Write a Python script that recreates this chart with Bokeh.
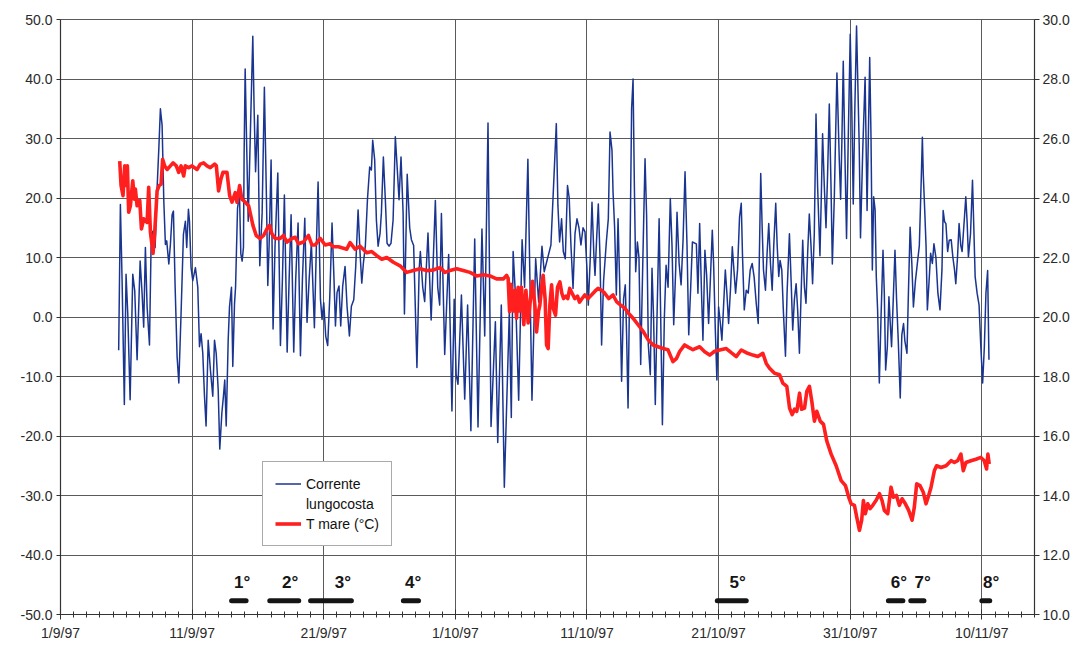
from bokeh.plotting import figure
from bokeh.models import (Range1d, LinearAxis, FixedTicker, PrintfTickFormatter,
                          Legend, LegendItem, ColumnDataSource)
from bokeh.core.properties import value
from bokeh.embed import file_html
from bokeh.resources import INLINE

# ---------------- data (days since 1/9/97) ----------------
x_tick_days = [0, 10, 20, 30, 40, 50, 60, 70]
x_tick_labels = ["1/9/97", "11/9/97", "21/9/97", "1/10/97", "11/10/97",
                 "21/10/97", "31/10/97", "10/11/97"]
left_ticks = [-50, -40, -30, -20, -10, 0, 10, 20, 30, 40, 50]
right_ticks = [10, 12, 14, 16, 18, 20, 22, 24, 26, 28, 30]

# Corrente lungocosta (left axis)
cur_day = [
    4.42, 4.55, 4.68, 4.85, 4.98, 5.11, 5.29, 5.49, 5.64, 5.82, 6.05, 6.20, 6.32, 6.45,
    6.58, 6.76, 6.88, 7.01, 7.19, 7.34, 7.47, 7.59, 7.72, 7.85, 7.97, 8.07, 8.23, 8.35,
    8.48, 8.58, 8.71, 8.86, 8.99, 9.16, 9.34, 9.49, 9.59, 9.72, 9.80, 9.92, 10.05, 10.25,
    10.43, 10.56, 10.68, 10.81, 10.94, 11.06, 11.22, 11.39, 11.57, 11.70, 11.83, 11.98,
    12.10, 12.26, 12.38, 12.48, 12.59, 12.74, 12.84, 12.99, 13.09, 13.22, 13.30, 13.45,
    13.60, 13.70, 13.80, 13.90, 13.95, 14.03, 14.16, 14.26, 14.36, 14.49, 14.61, 14.71,
    14.82,
    14.99, 15.14, 15.32, 15.49, 15.65, 15.75, 15.85, 16.00, 16.15, 16.30, 16.51, 16.71,
    16.86, 17.01, 17.22, 17.37, 17.52, 17.72, 17.87, 18.05, 18.23, 18.38, 18.56, 18.73,
    18.89, 19.06, 19.29, 19.44, 19.57, 19.75, 19.87, 20.00, 20.15, 20.30, 20.46, 20.63,
    20.78, 20.89, 21.01, 21.16, 21.29, 21.44, 21.62, 21.77, 21.95, 22.10, 22.28, 22.43,
    22.61, 22.76, 22.89, 23.01, 23.16, 23.32, 23.49, 23.62, 23.72, 23.87, 24.00, 24.13,
    24.28, 24.38, 24.53, 24.68, 24.81, 24.96, 25.11, 25.27, 25.44, 25.59, 25.72, 25.87,
    26.03,
    26.13, 26.34, 26.53, 26.66, 26.83, 27.08, 27.25, 27.34, 27.52, 27.67, 27.92, 28.16,
    28.48, 28.66, 28.81, 28.94, 29.19, 29.49, 29.74, 29.91, 30.06, 30.20, 30.46, 30.71,
    30.82, 30.93, 31.18, 31.47, 31.72, 32.02, 32.23, 32.48, 32.71, 33.04, 33.22, 33.49,
    33.72, 34.10, 34.25, 34.39, 34.58, 34.81, 35.07, 35.26, 35.51, 35.82, 36.10, 36.33,
    36.58,
    36.75, 37.26, 37.46, 37.67, 37.79, 37.92, 38.07, 38.20, 38.35, 38.52, 38.65, 38.78,
    38.94, 39.09, 39.24, 39.39, 39.54, 39.70, 39.85, 40.00, 40.10, 40.25, 40.38, 40.53,
    40.61, 40.73, 40.86, 40.99, 41.11, 41.26, 41.47, 41.62, 41.75, 41.90, 41.98, 42.10,
    42.23, 42.36, 42.48, 42.63, 42.78, 42.91, 43.01, 43.12, 43.24, 43.39, 43.50, 43.60,
    43.70, 43.83, 43.95, 44.08, 44.21, 44.30, 44.41, 44.53, 44.66, 44.81, 44.94, 45.06,
    45.19, 45.32, 45.48, 45.60, 45.73, 45.88, 46.01, 46.16, 46.33, 46.46, 46.59, 46.74,
    46.84, 47.00, 47.15, 47.30, 47.45, 47.60, 47.73, 47.88, 48.01,
    48.31, 48.43, 48.56, 48.71, 48.81, 48.96, 49.09, 49.24, 49.37, 49.52, 49.62, 49.75,
    49.87, 50.00, 50.13, 50.25, 50.38, 50.51, 50.63, 50.76, 50.91, 51.04, 51.16, 51.29,
    51.44, 51.59, 51.72, 51.82, 51.95, 52.10, 52.25, 52.40, 52.55, 52.70, 52.86, 53.01,
    53.11, 53.20, 53.31, 53.41, 53.56, 53.69, 53.81, 53.94, 54.07, 54.19, 54.34, 54.45,
    54.57, 54.67, 54.80, 54.92, 55.08, 55.20, 55.38, 55.51, 55.63, 55.76, 55.89, 56.01,
    56.14, 56.27, 56.39, 56.52, 56.64, 56.77, 56.89, 57.02, 57.14, 57.27, 57.40, 57.52,
    57.70, 57.80, 57.90, 58.03, 58.16, 58.28, 58.41, 58.54, 58.64, 58.79,
    58.99, 59.17, 59.27, 59.37, 59.47, 59.59, 59.72, 59.85, 60.00, 60.12, 60.23, 60.35,
    60.48, 60.57, 60.68, 60.78, 60.95, 61.13, 61.28, 61.48, 61.58, 61.68, 61.78, 61.89,
    61.98, 62.08, 62.21, 62.34, 62.49, 62.59, 62.69, 62.82, 62.94, 63.04, 63.14, 63.27,
    63.40, 63.52, 63.65, 63.80, 63.92, 64.05, 64.15, 64.31, 64.42, 64.55, 64.68, 64.80,
    64.95, 65.10, 65.25, 65.40, 65.48, 65.55, 65.66, 65.76, 65.86, 65.99, 66.11, 66.24,
    66.36, 66.51, 66.66, 66.82, 66.97, 67.06, 67.17, 67.27, 67.40, 67.52, 67.67, 67.80,
    67.92, 68.02, 68.15, 68.27, 68.40, 68.50, 68.68, 68.78, 68.88, 68.98, 69.14, 69.29,
    69.39, 69.49, 69.64, 69.79, 69.91, 70.06, 70.19, 70.31, 70.44, 70.54,
]
cur_val = [
    -5.6, 18.9, 6.1, -14.7, 7.2, 0.6, -13.9, 7.2, 4.4, -7.2, 9.4, 3.9, -1.7, 11.7,
    1.7, -4.7, 11.7, 14.4, 11.7, 21.7, 28.3, 35.0, 32.2, 19.4, 12.2, 12.8, 8.9, 12.2,
    17.2, 17.8, 5.0, -6.7, -11.1, 0.6, 13.9, 16.1, 11.7, 18.1, 16.1, 8.3, 6.1, 8.3,
    5.0, -5.0, -2.8, -6.1, -13.3, -18.3, -3.9, -8.9, -13.3, -3.9, -6.1, -12.2,
    -22.2, -16.1, -13.3, -10.6, -18.3, -3.9, 1.7, 5.0, -8.3, 2.2, 5.0, 18.3,
    20.6, 10.6, 9.4, 11.7, 27.2, 41.7, 27.2, 16.1, 25.0, 36.7, 47.2, 35.0,
    24.4,
    33.9, 8.6, 17.5, 38.6, 19.7, 5.3, 12.0, 26.4, -2.0, 12.0, 24.2, -4.8,
    6.3, 20.5, -5.9, 6.3, 17.2, -5.9, 6.3, 15.8, -6.5, 6.3, 16.6, -0.9,
    6.3, 12.4, -1.8, 11.9, 22.7, 3.0, -0.4, 2.4, -3.2, -4.8, 3.5, 15.8,
    6.3, -1.5, 4.1, 5.2, -1.5, 5.2, 8.5, 1.8, -3.2, 1.8, 2.9, 8.5,
    18.0, 10.7, 5.7, 9.0, 11.9, 19.7, 25.2, 24.7, 29.7, 26.4, 16.3, 11.9,
    14.1, 17.5, 26.9, 19.7, 12.4, 11.9, 12.4, 16.3, 30.3, 24.7, 19.7, 26.9,
    17.5,
    0.5, 24.0, 15.0, 13.0, 12.0, -8.5, 8.0, 11.0, 5.0, 2.6, 14.1, -0.5,
    19.6, 5.0, 2.0, 17.4, -6.3, 10.5, -15.8, 3.0, -9.7, -11.3, 3.7, -13.8,
    -6.0, 2.0, -19.1, 13.1, -18.5, 14.8, -3.2, 32.6, -18.4, -0.8, -21.1, 2.0,
    -28.6, 0.9, -16.9, 11.0, 3.0, -14.0, 13.0, 5.0, 26.5, -14.0, 9.8, 2.5,
    11.9,
    7.6, 12.1, 22.0, 32.5, 18.8, 12.6, 16.5, 11.0, 9.8, 22.1, 20.0, 12.1,
    4.8, 14.0, 16.5, 15.0, 12.1, 15.0, 14.3, 8.0, 2.0, 10.0, 19.3, 10.0,
    7.0, 13.0, 19.0, 10.0, -4.7, 6.0, 12.6, 16.5, 31.1, 28.0, 21.0, 15.0,
    3.7, 16.5, 6.0, -10.8, 3.0, 5.4, -3.0, -15.3, 5.0, 35.0, 40.0, 22.0,
    7.6, 12.6, 10.0, -8.0, 6.0, 15.4, 26.6, 17.0, -4.7, -9.7, 8.2, -0.2,
    -14.7, 0.0, 16.5, 0.0, -18.1, 0.0, 8.7, 5.0, 19.9, 12.0, -1.3, 8.0,
    17.6, 9.0, 5.4, 13.0, 24.4, 12.0, -3.0, 5.0, 12.6,
    12.3, 4.0, 15.7, 3.4, -3.9, 11.2, 7.0, -1.1, 6.0, 14.6, 9.0, -2.2,
    -10.6, 1.7, -1.0, -3.9, 2.0, 7.9, 4.0, -1.1, 5.0, 11.8, 8.0, 4.0,
    8.0, 16.8, 19.1, 10.0, 1.2, 4.5, 4.0, 7.9, 9.0, 6.7, 2.3, -1.1,
    12.0, 24.1, 15.0, 7.9, 4.5, 11.0, 15.7, 9.0, 4.5, 12.0, 19.1, 12.0,
    6.8, 9.5, 7.9, 1.0, -6.6, 4.0, 14.0, 6.0, -2.2, 3.0, 5.6, 1.0,
    -6.1, 4.0, 12.9, 5.0, 2.3, 11.0, 17.3, 12.0, 5.6, 14.0, 34.1, 22.0,
    10.3, 20.0, 30.8, 22.0, 15.0, 24.0, 35.8, 22.0, 8.9, 20.0,
    41.0, 26.3, 19.8, 30.0, 43.0, 28.0, 13.2, 30.0, 47.5, 34.7, 19.0, 35.0,
    48.9, 40.0, 29.1, 13.3, 28.0, 40.3, 17.9, 43.6, 30.0, 7.9, 20.2, 18.0,
    6.8, 1.2, -11.1, 0.0, 11.2, 4.0, -8.9, -5.0, 3.4, -1.0, -5.0, 3.0,
    11.2, 3.0, -4.0, -13.6, -3.0, -1.1, -4.0, -6.1, 4.0, 15.1, 9.0, 1.7,
    6.0, 9.0, 12.0, 23.5, 30.2, 24.0, 17.9, 12.0, 1.2, 6.0, 10.7, 9.0,
    12.3, 10.0, 4.0, 1.2, 8.0, 17.9, 16.0, 15.7, 11.0, 12.9, 13.0, 10.0,
    8.0, 5.6, 10.0, 15.7, 12.0, 11.0, 16.8, 20.2, 16.0, 10.1, 14.0, 23.0,
    15.0, 6.8, 4.0, 2.0, -4.4, -11.1, -5.0, 4.0, 7.8, -7.2,
]

# T mare (°C) (right axis)
temp_day = [
    4.50, 4.60, 4.75, 4.88, 5.01, 5.08, 5.18, 5.31, 5.49, 5.61, 5.69, 5.82, 6.02, 6.15,
    6.32, 6.58, 6.70, 6.83, 7.03, 7.16, 7.34, 7.49, 7.64, 7.76, 7.91, 8.10, 8.35, 8.55,
    8.80, 8.98, 9.16, 9.36, 9.48, 9.74, 9.99, 10.37, 10.62, 10.87, 11.13, 11.38, 11.71,
    11.84, 12.01, 12.19, 12.34, 12.65, 12.85, 13.03, 13.28, 13.41, 13.61, 13.78, 14.04,
    14.29, 14.62, 14.87, 15.17, 15.43, 15.68, 15.88, 16.06, 16.31, 16.69, 16.94, 17.20,
    17.58, 17.83, 18.08, 18.46, 18.84, 19.10, 19.35, 19.73, 20.11, 20.49, 20.74, 21.12,
    21.75, 22.00, 22.38, 22.76, 23.27, 23.65, 24.03, 24.41, 24.79, 25.29, 25.80, 26.30,
    26.81, 27.31, 27.82, 28.32, 28.83, 29.21, 29.59, 30.10, 30.60, 31.11, 31.62, 32.12,
    32.63, 33.13, 33.64, 33.89, 34.01, 34.12, 34.22, 34.39, 34.52, 34.65, 34.77, 34.90,
    35.03, 35.20, 35.36, 35.53, 35.71, 35.86, 36.04, 36.17, 36.32, 36.42, 36.55, 36.67,
    36.82, 36.93, 37.05, 37.18, 37.31, 37.43, 37.61, 37.76, 37.94, 38.09, 38.22, 38.39,
    38.54, 38.69, 38.87, 39.07, 39.28, 39.43, 39.63, 39.83, 40.08, 40.34, 40.59, 40.84,
    41.10, 41.35, 41.65, 41.98, 42.24, 42.56, 42.87, 43.17, 43.50, 43.88, 44.26, 44.64,
    45.02, 45.40, 45.78, 46.15, 46.53, 46.79, 47.04, 47.42, 47.72, 48.05,
    48.56, 48.94, 49.32, 49.70, 50.08, 50.58, 50.96, 51.34, 51.72, 52.10, 52.60, 52.98,
    53.36, 53.62, 53.87, 54.25, 54.63, 54.88, 55.18, 55.39, 55.59, 55.77, 55.94, 56.15,
    56.30, 56.53, 56.70, 56.90, 57.08, 57.28, 57.46, 57.72, 57.97, 58.22, 58.55, 58.93,
    59.31, 59.64, 59.89, 60.07, 60.32, 60.49, 60.70, 60.87, 61.00, 61.15, 61.33, 61.51,
    61.71, 61.96, 62.22, 62.42, 62.59, 62.85, 63.10, 63.28, 63.51, 63.73, 63.94, 64.19,
    64.44, 64.70, 64.87, 65.05, 65.30, 65.55, 65.76, 65.96, 66.14, 66.39, 66.56, 66.90,
    67.28, 67.66, 67.91, 68.16, 68.41, 68.59, 68.79, 69.17, 69.55, 69.93, 70.18, 70.36,
    70.46, 70.56,
]
temp_val = [
    25.24, 24.42, 24.08, 25.08, 24.42, 25.08, 23.52, 23.74, 24.58, 23.96, 24.30, 23.74,
    23.92, 22.96, 23.30, 23.18, 24.36, 22.86, 22.14, 22.86, 24.24, 24.42, 24.46, 25.30,
    25.08, 24.96, 25.08, 25.18, 25.08, 24.86, 25.08, 24.74, 25.08, 25.02, 25.08, 24.96,
    25.14, 25.18, 25.08, 25.02, 25.14, 25.08, 24.24, 24.64, 24.86, 24.86, 24.08, 23.86,
    24.18, 23.86, 24.42, 23.96, 23.86, 23.74, 23.08, 22.74, 22.64, 22.74, 22.96, 23.08,
    22.80, 22.64, 22.64, 22.74, 22.52, 22.64, 22.68, 22.46, 22.52, 22.74, 22.42, 22.42,
    22.64, 22.42, 22.46, 22.36, 22.36,
    22.28, 22.50, 22.28, 22.38, 22.16, 22.20, 22.06, 21.94, 22.00, 21.84, 21.72, 21.50,
    21.56, 21.62, 21.56, 21.58, 21.66, 21.50, 21.56, 21.62, 21.56, 21.50, 21.38, 21.42,
    21.38, 21.28, 21.28, 21.40, 21.30, 20.18, 21.10, 20.20, 20.90, 19.96, 21.00, 20.20,
    21.00, 19.74, 20.90, 19.80, 20.62, 21.20, 20.40, 19.50, 20.20, 20.40, 21.00, 21.40,
    20.60, 19.06, 18.94, 20.40, 21.08, 20.30, 20.06, 21.00, 21.18, 20.80, 20.62, 20.70,
    20.62, 20.96, 20.80, 20.62, 20.70, 20.50, 20.62, 20.74, 20.62, 20.74, 20.86, 20.96,
    20.90, 20.80, 20.62, 20.74, 20.52, 20.40, 20.30, 20.12, 19.96, 19.74, 19.52, 19.24,
    19.06, 19.00, 18.94, 18.90, 18.50, 18.60, 18.84, 19.06, 18.98, 18.90,
    19.00, 18.83, 18.72, 18.85, 18.89, 18.94, 18.80, 18.67, 18.89, 18.80, 18.72, 18.67,
    18.78, 18.44, 18.28, 18.11, 18.06, 17.78, 17.67, 16.94, 16.72, 16.90, 16.83, 17.44,
    16.90, 16.94, 17.50, 17.67, 17.17, 16.50, 16.83, 16.50, 16.39, 15.83, 15.39, 15.00,
    14.50, 14.33, 13.94, 13.72, 13.67, 13.28, 12.83, 13.17, 13.83, 13.39, 13.72, 13.56,
    13.67, 13.83, 14.06, 13.83, 13.50, 13.39, 14.28, 13.94, 14.00, 13.67, 13.89, 13.72,
    13.50, 13.17, 13.61, 14.39, 14.33, 14.11, 13.72, 14.00, 14.28, 14.83, 15.00, 14.94,
    15.00, 15.17, 15.11, 15.17, 15.39, 14.83, 15.11, 15.17, 15.22, 15.28, 15.17, 14.89,
    15.39, 15.06,
]

# campagne di misura (periods, days since 1/9/97)
event_labels = ["1°", "2°", "3°", "4°", "5°", "6°", "7°", "8°"]
event_start = [13.0, 15.9, 19.0, 26.05, 49.9, 62.9, 64.6, 70.0]
event_end = [14.1, 18.1, 22.1, 27.2, 52.1, 64.0, 65.6, 70.6]
event_label_day = [13.8, 17.45, 21.45, 26.8, 51.45, 63.7, 65.5, 70.7]

# ---------------- styles ----------------
FONT = "Liberation Sans"
BLUE = "#1a3590"
RED = "#ff1f1f"
GRID = "#5a5a5a"
EV_Y = -47.7
EV_LABEL_Y = -44.6

p = figure(width=1072, height=643, x_range=Range1d(0, 74), y_range=Range1d(-50, 50),
           output_backend="svg", toolbar_location=None,
           min_border_left=60, min_border_top=19, min_border_right=37, min_border_bottom=27)
p.background_fill_color = "white"
p.border_fill_color = "white"
p.outline_line_color = GRID
p.outline_line_width = 1

# axes
p.xaxis.ticker = FixedTicker(ticks=x_tick_days, minor_ticks=list(range(0, 75)))
p.xaxis.major_label_overrides = {d: lab for d, lab in zip(x_tick_days, x_tick_labels)}
p.yaxis.ticker = FixedTicker(ticks=left_ticks, minor_ticks=[])
p.yaxis.formatter = PrintfTickFormatter(format="%.1f")

p.extra_y_ranges = {"temp": Range1d(10, 30)}
raxis = LinearAxis(y_range_name="temp", ticker=FixedTicker(ticks=right_ticks, minor_ticks=[]),
                   formatter=PrintfTickFormatter(format="%.1f"))
p.add_layout(raxis, "right")

for ax in [p.xaxis[0], p.yaxis[0], raxis]:
    ax.major_label_text_font = FONT
    ax.major_label_text_font_size = "14px"
    ax.major_label_text_color = "#2a2a2a"
    ax.axis_line_color = "#333333"
    ax.axis_line_width = 1.2
    ax.major_tick_line_color = "#333333"
    ax.minor_tick_line_color = "#333333"

p.xaxis.major_tick_in = 5
p.xaxis.major_tick_out = 5
p.xaxis.minor_tick_in = 3
p.xaxis.minor_tick_out = 3
p.xaxis.major_label_standoff = 5
p.yaxis.major_tick_in = 0
p.yaxis.major_tick_out = 4
p.yaxis.major_label_standoff = 4
raxis.major_tick_in = 0
raxis.major_tick_out = 5
raxis.major_label_standoff = 3

p.xgrid.grid_line_color = GRID
p.ygrid.grid_line_color = GRID
p.xgrid.grid_line_width = 1
p.ygrid.grid_line_width = 1

# series
cur_src = ColumnDataSource(dict(x=cur_day, y=cur_val))
tmp_src = ColumnDataSource(dict(x=temp_day, y=temp_val))
blue = p.line("x", "y", source=cur_src, line_color=BLUE, line_width=1.5, line_join="round")
red = p.line("x", "y", source=tmp_src, y_range_name="temp", line_color=RED,
             line_width=3.6, line_join="round")

# measurement campaigns
ev_src = ColumnDataSource(dict(x0=event_start, x1=event_end,
                               y=[EV_Y] * len(event_start)))
p.segment(x0="x0", y0="y", x1="x1", y1="y", source=ev_src, line_color="#151515",
          line_width=5, line_cap="round")
lab_src = ColumnDataSource(dict(x=event_label_day, y=[EV_LABEL_Y] * len(event_labels),
                                t=event_labels))
p.text(x="x", y="y", text="t", source=lab_src, text_font=value(FONT),
       text_font_style="bold", text_font_size="17px", text_color="#151515",
       text_align="center", text_baseline="middle")

legend = Legend(items=[LegendItem(label="Corrente", renderers=[blue]),
                       LegendItem(label="lungocosta", renderers=[]),
                       LegendItem(label="T mare (°C)", renderers=[red])],
                location=(202, 68), orientation="vertical")
legend.label_text_font = FONT
legend.label_text_font_size = "14px"
legend.label_text_color = "#111111"
legend.glyph_width = 26
legend.glyph_height = 19
legend.label_height = 19
legend.label_standoff = 5
legend.spacing = 1
legend.padding = 12
legend.margin = 0
legend.border_line_color = "#555555"
legend.border_line_width = 1
legend.background_fill_color = "white"
legend.background_fill_alpha = 1
p.add_layout(legend)

open("out.html", "w").write(file_html(p, INLINE))
